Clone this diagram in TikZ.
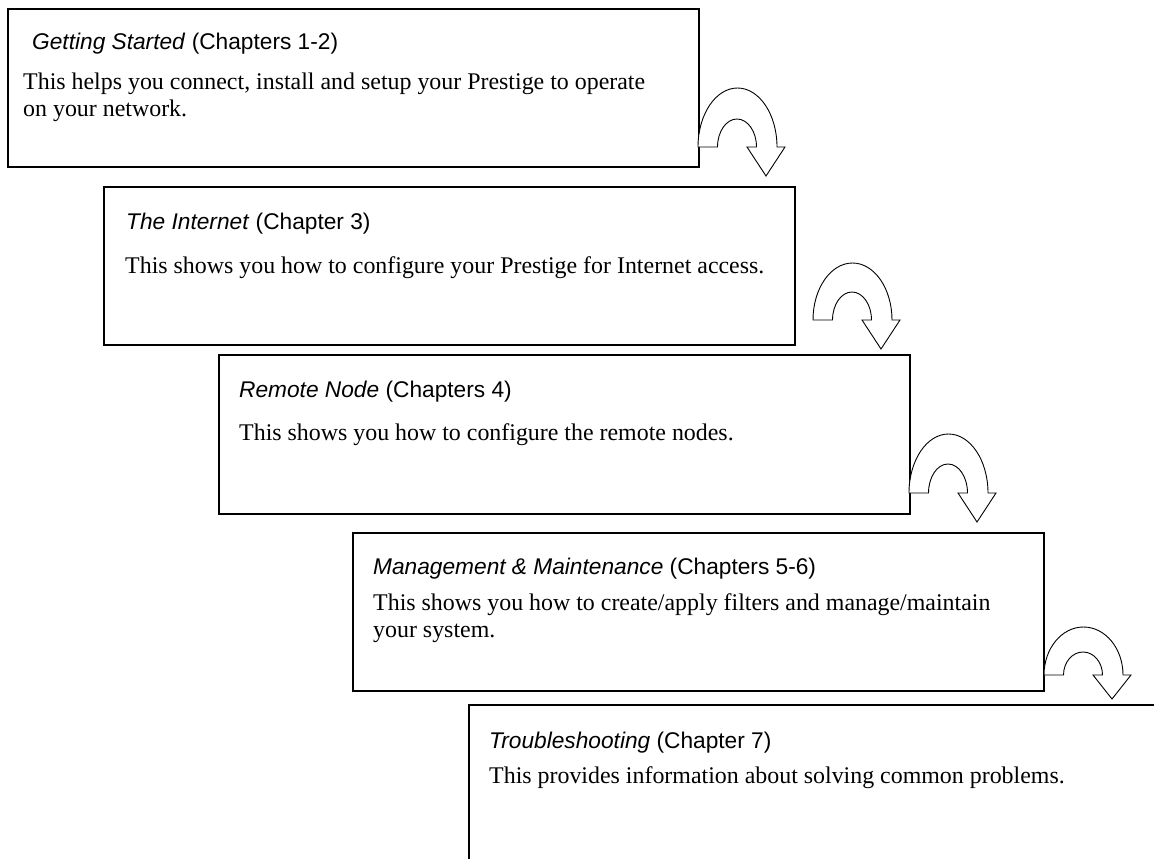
\documentclass[tikz,border=0pt]{standalone}
\usepackage{fontspec}
\setmainfont{Liberation Serif}
\setsansfont{Liberation Sans}
\begin{document}
\begin{tikzpicture}[x=1pt,y=-1pt,
  chapbox/.style={draw=black, line width=1.6pt, rectangle, inner sep=0pt,
    minimum width=691pt, minimum height=158pt, anchor=north west},
  titletext/.style={anchor=base west, inner sep=0pt,
    font=\sffamily\fontsize{22.7}{27}\selectfont},
  bodytext/.style={anchor=base west, inner sep=0pt,
    font=\rmfamily\fontsize{23.9}{27.6}\selectfont},
  turnarrow/.style={draw=black, line width=0.9pt, fill=white, line join=miter}]
\newcommand\uturnarrow[5]{%
  \draw[turnarrow] (#1,#2) arc[start angle=180,end angle=0,x radius=39.5pt,y radius=#4pt]
    -- ++(8,0) -- ({#1+68},{#2+#3}) -- ({#1+49},#2) -- ({#1+58.5},#2)
    arc[start angle=0,end angle=180,x radius=19.5pt,y radius=#5pt] -- cycle;}
\useasboundingbox (0,0) rectangle (1154,859);
\clip (0,0) rectangle (1154,859);
\fill[white] (0,0) rectangle (1154,859);

% boxes
\node[chapbox] (b1) at (7,8) {};
\node[chapbox] (b2) at (103,186) {};
\node[chapbox, minimum height=159pt] (b3) at (218,354) {};
\node[chapbox] (b4) at (352,532) {};
\node[chapbox] (b5) at (468,704) {};

% texts
\node[titletext] (t1) at (32,50) {\textit{Getting Started} (Chapters 1-2)};
\node[bodytext] (d1a) at (23,89) {This helps you connect, install and setup your Prestige to operate};
\node[bodytext] (d1b) at (23,117) {on your network.};

\node[titletext] (t2) at (126,229) {\textit{The Internet} (Chapter 3)};
\node[bodytext] (d2) at (125,273) {This shows you how to configure your Prestige for Internet access.};

\node[titletext] (t3) at (239,397) {\textit{Remote Node} (Chapters 4)};
\node[bodytext] (d3) at (239,440) {This shows you how to configure the remote nodes.};

\node[titletext] (t4) at (373,574) {\textit{Management \& Maintenance} (Chapters 5-6)};
\node[bodytext] (d4a) at (373,610) {This shows you how to create/apply filters and manage/maintain};
\node[bodytext] (d4b) at (373,637) {your system.};

\node[titletext] (t5) at (489,748) {\textit{Troubleshooting} (Chapter 7)};
\node[bodytext] (d5) at (489,783) {This provides information about solving common problems.};

% u-turn arrows
\uturnarrow{698}{147}{29}{59}{28}
\uturnarrow{813}{320}{29}{57}{28}
\uturnarrow{909}{493}{29}{59}{29}
\uturnarrow{1044}{675}{24}{48}{23}
\end{tikzpicture}
\end{document}
